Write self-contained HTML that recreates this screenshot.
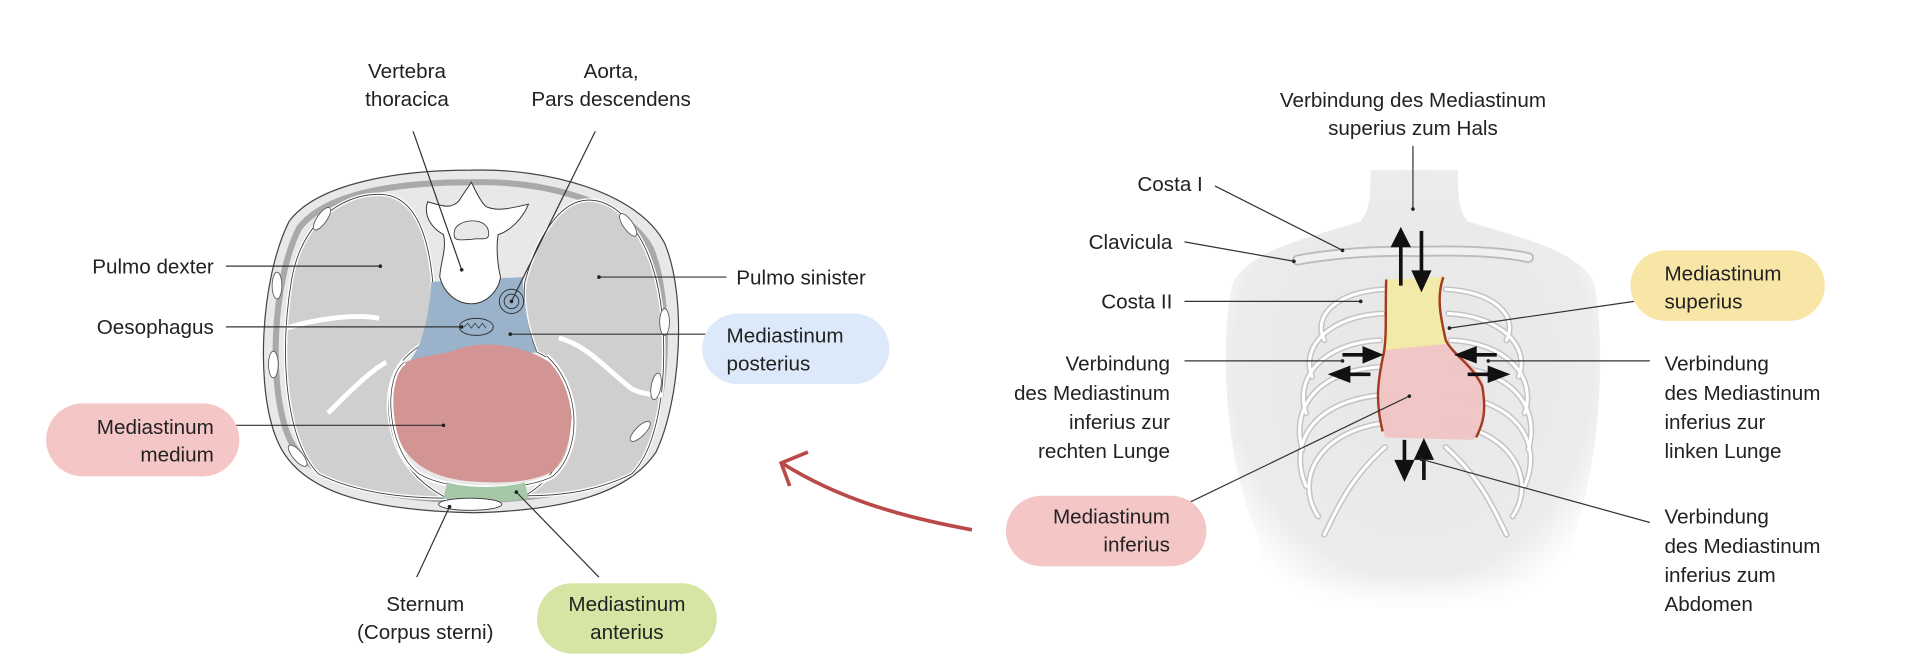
<!DOCTYPE html>
<html><head><meta charset="utf-8"><style>
html,body{margin:0;padding:0;background:#fff;}
svg{display:block}
text{font-family:"Liberation Sans",sans-serif;font-size:17px;fill:#222;}
</style></head><body>
<svg width="1905" height="672" viewBox="0 0 1568 553" xmlns="http://www.w3.org/2000/svg">
<defs>
<radialGradient id="bg" cx="0.5" cy="0.45" r="0.6">
<stop offset="0" stop-color="#e6e6e6"/><stop offset="0.8" stop-color="#ececec"/><stop offset="1" stop-color="#fff"/>
</radialGradient>
<linearGradient id="fade" x1="0" y1="0" x2="0" y2="1">
<stop offset="0.7" stop-color="#fff" stop-opacity="0"/><stop offset="1" stop-color="#fff" stop-opacity="1"/>
</linearGradient>
</defs>

<!-- LEFT: thorax cross-section -->
<path d="M387,140 C450,138 525,158 547,200 C566,245 560,330 540,372 C518,405 468,420 390,422 C300,420 245,404 228,362 C210,320 214,230 238,182 C262,150 330,140 387,140 Z" fill="#e8e8e8" stroke="#444" stroke-width="1"/>
<path d="M387,150 C448,148 515,166 536,205 C553,248 550,328 532,366 C512,397 465,410 390,412 C305,410 252,396 237,358 C221,318 224,232 246,188 C268,158 330,150 387,150 Z" fill="none" stroke="#a9a9a9" stroke-width="5"/>
<path d="M315,160 C290,158 250,175 240,230 C230,290 234,360 262,390 C292,405 330,410 368,410 C338,395 323,370 320,340 C318,310 330,295 345,285 C355,270 356,250 356,230 C352,190 340,162 315,160 Z" fill="#cfcfcf" stroke="#fff" stroke-width="3"/>
<path d="M315,160 C290,158 250,175 240,230 C230,290 234,360 262,390 C292,405 330,410 368,410 C338,395 323,370 320,340 C318,310 330,295 345,285 C355,270 356,250 356,230 C352,190 340,162 315,160 Z" fill="none" stroke="#333" stroke-width="0.7"/>
<path d="M480,165 C510,160 540,200 545,260 C550,320 540,370 520,390 C490,405 460,408 432,408 C455,395 470,370 470,340 C470,310 455,295 442,290 C434,270 430,250 432,232 C442,195 460,168 480,165 Z" fill="#cfcfcf" stroke="#fff" stroke-width="3"/>
<path d="M480,165 C510,160 540,200 545,260 C550,320 540,370 520,390 C490,405 460,408 432,408 C455,395 470,370 470,340 C470,310 455,295 442,290 C434,270 430,250 432,232 C442,195 460,168 480,165 Z" fill="none" stroke="#333" stroke-width="0.7"/>
<!-- fissures -->
<path d="M236,270 C260,262 295,258 312,262" stroke="#fff" stroke-width="4" fill="none"/>
<path d="M270,340 C290,320 305,305 318,298" stroke="#fff" stroke-width="4" fill="none"/>
<path d="M460,278 C485,285 500,305 520,320 C530,325 540,325 545,325" stroke="#fff" stroke-width="4" fill="none"/>
<!-- blue posterior -->
<path d="M355,232 L430,228 C432,255 436,278 442,290 L335,300 C346,288 353,265 355,232 Z" fill="#9ab3cb"/>
<!-- heart -->
<path d="M330,300 C345,292 360,293 375,288 C395,280 430,282 455,300 C475,320 475,370 455,388 C435,398 410,398 385,396 C355,393 335,380 328,360 C322,340 322,315 330,300 Z" fill="#d39593"/>
<path d="M333,298 C315,310 318,370 345,390 C370,405 430,405 455,392 C480,370 478,318 450,293" fill="none" stroke="#fff" stroke-width="4"/>
<path d="M333,298 C315,310 318,370 345,390 C370,405 430,405 455,392 C480,370 478,318 450,293" fill="none" stroke="#333" stroke-width="0.6"/>
<!-- green anterior -->
<path d="M368,397 C385,402 415,402 432,397 L435,410 C415,414 385,414 365,410 Z" fill="#a6c8a8"/>
<!-- sternum -->
<ellipse cx="387" cy="415" rx="26" ry="5" fill="#fff" stroke="#333" stroke-width="0.7"/>
<!-- vertebra -->
<path d="M352,166 C365,170 372,172 378,165 C382,158 385,155 388,150 C392,158 395,165 400,170 C410,175 425,170 435,168 C430,180 420,190 410,193 C408,205 410,220 412,228 C410,240 400,250 388,250 C375,250 365,240 362,228 C362,218 368,205 365,193 C356,188 348,178 352,166 Z" fill="#fff" stroke="#333" stroke-width="0.8"/>
<path d="M374,190 C376,180 400,178 402,190 C404,200 395,195 388,197 C380,197 372,200 374,190 Z" fill="#e8e8e8" stroke="#333" stroke-width="0.7"/>
<!-- aorta -->
<circle cx="421" cy="248" r="10" fill="none" stroke="#333" stroke-width="0.8"/>
<circle cx="421" cy="248" r="6" fill="none" stroke="#333" stroke-width="0.8"/>
<!-- oesophagus -->
<ellipse cx="392" cy="269" rx="14" ry="7" fill="none" stroke="#333" stroke-width="0.8"/>
<path d="M382,269 l3,-3 l3,4 l3,-4 l3,4 l3,-4 l3,4" fill="none" stroke="#333" stroke-width="0.6"/>
<!-- rib ovals -->
<g fill="#fff" stroke="#555" stroke-width="0.7">
<ellipse cx="265" cy="180" rx="4" ry="11" transform="rotate(35 265 180)"/>
<ellipse cx="228" cy="235" rx="4" ry="11"/>
<ellipse cx="225" cy="300" rx="4" ry="11"/>
<ellipse cx="245" cy="375" rx="4" ry="11" transform="rotate(-40 245 375)"/>
<ellipse cx="517" cy="185" rx="4" ry="11" transform="rotate(-35 517 185)"/>
<ellipse cx="547" cy="265" rx="4" ry="11"/>
<ellipse cx="540" cy="318" rx="4" ry="11" transform="rotate(10 540 318)"/>
<ellipse cx="527" cy="355" rx="4" ry="11" transform="rotate(45 527 355)"/>
</g>

<!-- left leader lines -->
<g stroke="#333" stroke-width="1" fill="none">
<line x1="340" y1="108" x2="380" y2="222"/>
<line x1="490" y1="108" x2="421" y2="248"/>
<line x1="186" y1="219" x2="313" y2="219"/>
<line x1="186" y1="269" x2="380" y2="269"/>
<line x1="493" y1="228" x2="598" y2="228"/>
<line x1="420" y1="275" x2="598" y2="275"/>
<line x1="186" y1="350" x2="365" y2="350"/>
<line x1="370" y1="417" x2="343" y2="475"/>
<line x1="425" y1="405" x2="493" y2="475"/>
</g>
<g fill="#222">
<circle cx="380" cy="222" r="1.5"/><circle cx="421" cy="248" r="1.5"/><circle cx="313" cy="219" r="1.5"/>
<circle cx="380" cy="269" r="1.5"/><circle cx="493" cy="228" r="1.5"/><circle cx="420" cy="275" r="1.5"/>
<circle cx="365" cy="350" r="1.5"/><circle cx="370" cy="417" r="1.5"/><circle cx="425" cy="405" r="1.5"/>
</g>

<!-- bubbles left -->
<rect x="578" y="258" width="154" height="58" rx="29" fill="#dce9fa"/>
<rect x="38" y="332" width="159" height="60" rx="30" fill="#f5c6c6"/>
<rect x="442" y="480" width="148" height="58" rx="29" fill="#d6e5a4"/>

<text x="335" y="64" text-anchor="middle">Vertebra</text>
<text x="335" y="87" text-anchor="middle">thoracica</text>
<text x="503" y="64" text-anchor="middle">Aorta,</text>
<text x="503" y="87" text-anchor="middle">Pars descendens</text>
<text x="176" y="225" text-anchor="end">Pulmo dexter</text>
<text x="176" y="275" text-anchor="end">Oesophagus</text>
<text x="606" y="234">Pulmo sinister</text>
<text x="598" y="282">Mediastinum</text>
<text x="598" y="305">posterius</text>
<text x="176" y="357" text-anchor="end">Mediastinum</text>
<text x="176" y="380" text-anchor="end">medium</text>
<text x="350" y="503" text-anchor="middle">Sternum</text>
<text x="350" y="526" text-anchor="middle">(Corpus sterni)</text>
<text x="516" y="503" text-anchor="middle">Mediastinum</text>
<text x="516" y="526" text-anchor="middle">anterius</text>

<!-- red arrow -->
<path d="M800,436 C740,425 690,410 645,382" fill="none" stroke="#b94a48" stroke-width="3"/>
<path d="M665,372 L643,381 L650,400" fill="none" stroke="#b94a48" stroke-width="3"/>

<!-- RIGHT: torso -->
<path d="M1128,140 C1128,160 1128,172 1120,182 C1080,195 1030,205 1015,232 C1003,280 1008,380 1035,440 L1045,500 L1285,500 L1295,440 C1318,380 1322,280 1312,232 C1298,205 1248,195 1208,182 C1200,172 1200,160 1200,140 Z" fill="url(#bg)"/>
<rect x="1000" y="400" width="340" height="105" fill="url(#fade)"/>
<!-- ribs -->
<g fill="none" stroke="#c4c4c4" stroke-width="5" stroke-linecap="round">
<path d="M1140,238 C1100,240 1080,260 1090,280"/>
<path d="M1138,258 C1095,260 1070,285 1080,310"/>
<path d="M1136,280 C1090,282 1065,310 1075,340"/>
<path d="M1136,302 C1085,305 1062,335 1072,370"/>
<path d="M1138,325 C1080,330 1060,365 1075,400"/>
<path d="M1140,348 C1085,355 1065,395 1085,425"/>
<path d="M1190,238 C1230,240 1250,260 1240,280"/>
<path d="M1192,258 C1235,260 1260,285 1250,310"/>
<path d="M1194,280 C1240,282 1265,310 1255,340"/>
<path d="M1194,302 C1245,305 1268,335 1258,370"/>
<path d="M1192,325 C1250,330 1270,365 1255,400"/>
<path d="M1190,348 C1245,355 1265,395 1245,425"/>
<path d="M1140,368 C1110,395 1100,420 1090,440"/>
<path d="M1190,368 C1220,395 1230,420 1240,440"/>
</g>
<g fill="none" stroke="#fff" stroke-width="2.5" stroke-linecap="round">
<path d="M1140,238 C1100,240 1080,260 1090,280"/>
<path d="M1138,258 C1095,260 1070,285 1080,310"/>
<path d="M1136,280 C1090,282 1065,310 1075,340"/>
<path d="M1136,302 C1085,305 1062,335 1072,370"/>
<path d="M1138,325 C1080,330 1060,365 1075,400"/>
<path d="M1140,348 C1085,355 1065,395 1085,425"/>
<path d="M1190,238 C1230,240 1250,260 1240,280"/>
<path d="M1192,258 C1235,260 1260,285 1250,310"/>
<path d="M1194,280 C1240,282 1265,310 1255,340"/>
<path d="M1194,302 C1245,305 1268,335 1258,370"/>
<path d="M1192,325 C1250,330 1270,365 1255,400"/>
<path d="M1190,348 C1245,355 1265,395 1245,425"/>
<path d="M1140,368 C1110,395 1100,420 1090,440"/>
<path d="M1190,368 C1220,395 1230,420 1240,440"/>
</g>
<!-- clavicle -->
<path d="M1068,214 C1100,208 1140,206 1165,207 C1195,206 1230,206 1258,212" fill="none" stroke="#bbb" stroke-width="9" stroke-linecap="round"/>
<path d="M1068,214 C1100,208 1140,206 1165,207 C1195,206 1230,206 1258,212" fill="none" stroke="#f0f0f0" stroke-width="6" stroke-linecap="round"/>
<!-- mediastinum superius / inferius -->
<path d="M1140,230 L1188,228 C1182,245 1186,260 1190,285 L1140,290 Z" fill="#f2eaa8"/>
<path d="M1140,288 L1190,283 C1205,295 1220,305 1222,320 C1222,345 1218,360 1212,362 L1140,360 C1135,345 1132,320 1140,288 Z" fill="#f0c4c4" opacity="0.95"/>
<path d="M1141,230 C1140,260 1142,280 1138,295 C1134,315 1132,330 1138,355" fill="none" stroke="#a33b20" stroke-width="2"/>
<path d="M1188,228 C1182,245 1186,262 1190,280 C1196,292 1212,300 1220,318 C1224,340 1220,350 1215,360" fill="none" stroke="#a33b20" stroke-width="2"/>

<!-- black arrows -->
<g stroke="#111" stroke-width="3" fill="#111">
<line x1="1153" y1="235" x2="1153" y2="200"/><path d="M1147,202 L1153,190 L1159,202 Z"/>
<line x1="1170" y1="190" x2="1170" y2="226"/><path d="M1164,224 L1170,237 L1176,224 Z"/>
<line x1="1105" y1="292" x2="1125" y2="292"/><path d="M1123,287 L1135,292 L1123,297 Z"/>
<line x1="1128" y1="308" x2="1108" y2="308"/><path d="M1110,303 L1097,308 L1110,313 Z"/>
<line x1="1232" y1="292" x2="1212" y2="292"/><path d="M1214,287 L1201,292 L1214,297 Z"/>
<line x1="1208" y1="308" x2="1228" y2="308"/><path d="M1226,303 L1239,308 L1226,313 Z"/>
<line x1="1156" y1="362" x2="1156" y2="382"/><path d="M1150,380 L1156,393 L1162,380 Z"/>
<line x1="1172" y1="395" x2="1172" y2="375"/><path d="M1166,377 L1172,364 L1178,377 Z"/>
</g>

<!-- right leader lines -->
<g stroke="#333" stroke-width="1" fill="none">
<line x1="1163" y1="120" x2="1163" y2="172"/>
<line x1="1000" y1="153" x2="1105" y2="206"/>
<line x1="975" y1="199" x2="1065" y2="215"/>
<line x1="975" y1="248" x2="1120" y2="248"/>
<line x1="1345" y1="248" x2="1193" y2="270"/>
<line x1="975" y1="297" x2="1105" y2="297"/>
<line x1="1225" y1="297" x2="1358" y2="297"/>
<line x1="980" y1="413" x2="1160" y2="326"/>
<line x1="1358" y1="430" x2="1170" y2="378"/>
</g>
<g fill="#222">
<circle cx="1163" cy="172" r="1.5"/><circle cx="1105" cy="206" r="1.5"/><circle cx="1065" cy="215" r="1.5"/>
<circle cx="1120" cy="248" r="1.5"/><circle cx="1193" cy="270" r="1.5"/><circle cx="1105" cy="297" r="1.5"/>
<circle cx="1225" cy="297" r="1.5"/><circle cx="1160" cy="326" r="1.5"/><circle cx="1170" cy="378" r="1.5"/>
</g>

<rect x="1342" y="206" width="160" height="58" rx="29" fill="#f8e6a6"/>
<rect x="828" y="408" width="165" height="58" rx="29" fill="#f5c6c6"/>

<text x="1163" y="88" text-anchor="middle">Verbindung des Mediastinum</text>
<text x="1163" y="111" text-anchor="middle">superius zum Hals</text>
<text x="990" y="157" text-anchor="end">Costa I</text>
<text x="965" y="205" text-anchor="end">Clavicula</text>
<text x="965" y="254" text-anchor="end">Costa II</text>
<text x="1370" y="231">Mediastinum</text>
<text x="1370" y="254">superius</text>
<text x="963" y="305" text-anchor="end">Verbindung</text>
<text x="963" y="329" text-anchor="end">des Mediastinum</text>
<text x="963" y="353" text-anchor="end">inferius zur</text>
<text x="963" y="377" text-anchor="end">rechten Lunge</text>
<text x="1370" y="305">Verbindung</text>
<text x="1370" y="329">des Mediastinum</text>
<text x="1370" y="353">inferius zur</text>
<text x="1370" y="377">linken Lunge</text>
<text x="963" y="431" text-anchor="end">Mediastinum</text>
<text x="963" y="454" text-anchor="end">inferius</text>
<text x="1370" y="431">Verbindung</text>
<text x="1370" y="455">des Mediastinum</text>
<text x="1370" y="479">inferius zum</text>
<text x="1370" y="503">Abdomen</text>
</svg>
</body></html>
